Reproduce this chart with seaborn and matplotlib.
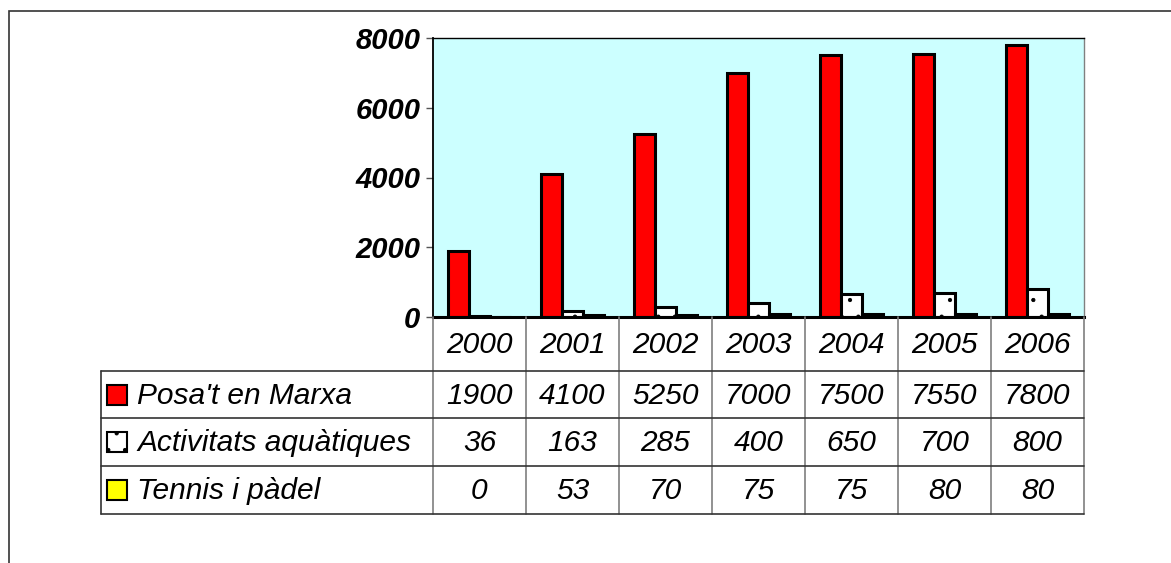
import matplotlib
matplotlib.use("Agg")
import matplotlib.pyplot as plt
import seaborn as sns
import pandas as pd
from matplotlib.lines import Line2D
from matplotlib.patches import Rectangle

# Participants per programme and year
years = ["2000", "2001", "2002", "2003", "2004", "2005", "2006"]
series = ["Posa't en Marxa", "Activitats aquàtiques", "Tennis i pàdel"]
posat_en_marxa = [1900, 4100, 5250, 7000, 7500, 7550, 7800]
activitats_aquatiques = [36, 163, 285, 400, 650, 700, 800]
tennis_padel = [0, 53, 70, 75, 75, 80, 80]
y_ticks = [0, 2000, 4000, 6000, 8000]

colors = ["#FF0000", "#FFFFFF", "#FFFF00"]
values = [posat_en_marxa, activitats_aquatiques, tennis_padel]

df = pd.DataFrame(
    [(y, s, v) for s, vals in zip(series, values) for y, v in zip(years, vals)],
    columns=["year", "series", "value"],
)

sns.set_theme(style="white")
plt.rcParams["font.family"] = ["Liberation Sans", "DejaVu Sans"]
plt.rcParams["hatch.linewidth"] = 0.6
plt.rcParams["hatch.color"] = "#555555"

W, H = 1171, 563
fig = plt.figure(figsize=(W / 100, H / 100), dpi=100)
fig.patch.set_facecolor("white")


def fx(px):
    return px / W


def fy(py):
    return 1 - py / H


ax_l, ax_r, ax_t, ax_b = 433, 1084, 38, 317
ax = fig.add_axes([fx(ax_l), fy(ax_b), fx(ax_r - ax_l), (ax_b - ax_t) / H])

sns.barplot(
    data=df, x="year", y="value", hue="series", order=years, hue_order=series,
    palette=colors, saturation=1, width=0.68, edgecolor="black", linewidth=2.2,
    ax=ax, legend=False, errorbar=None,
)
for bar in ax.containers[1]:
    bar.set_hatch(".")

ax.set_facecolor("#CCFFFF")
ax.set_ylim(0, 8000)
ax.set_xlim(-0.5, len(years) - 0.5)
ax.set_yticks(y_ticks)
ax.set_yticklabels([str(t) for t in y_ticks], fontsize=21, fontweight="bold",
                   fontstyle="italic", color="black")
ax.tick_params(axis="y", direction="out", length=5, width=1, color="#555555",
               pad=4, left=True)
ax.set_xticks([])
ax.set_xlabel("")
ax.set_ylabel("")
for side, lw, col in [("left", 1.3, "black"), ("top", 1.0, "black"),
                      ("right", 1.0, "#808080"), ("bottom", 2.2, "black")]:
    ax.spines[side].set_visible(True)
    ax.spines[side].set_linewidth(lw)
    ax.spines[side].set_color(col)

# Outer frame
fig.add_artist(Rectangle((fx(9), fy(H + 20)), fx(W + 20), (H + 20 - 11) / H,
                         transform=fig.transFigure, fill=False,
                         edgecolor="#333333", linewidth=1.2))

# Data table below the plot
fig.canvas.draw()


def col_px(i):
    disp = ax.transData.transform((i - 0.5, 0))
    return disp[0] * W / fig.bbox.width


col_edges = [col_px(i) for i in range(len(years) + 1)]
tab_left = 101
row_edges = [ax_b, 371, 418, 466, 514]

vline_col = "#7f7f7f"
hline_col = "#333333"
for x in col_edges:
    fig.add_artist(Line2D([fx(x), fx(x)], [fy(row_edges[0]), fy(row_edges[-1])],
                          color=vline_col, linewidth=1.2, transform=fig.transFigure))
fig.add_artist(Line2D([fx(tab_left), fx(tab_left)], [fy(row_edges[1]), fy(row_edges[-1])],
                      color=hline_col, linewidth=1.2, transform=fig.transFigure))
for y in row_edges[1:]:
    fig.add_artist(Line2D([fx(tab_left), fx(col_edges[-1])], [fy(y), fy(y)],
                          color=hline_col, linewidth=1.2, transform=fig.transFigure))

cell_font = dict(fontsize=21.5, fontstyle="italic", color="black",
                 ha="center", va="center")
for j, yr in enumerate(years):
    cx = (col_edges[j] + col_edges[j + 1]) / 2
    fig.text(fx(cx), fy((row_edges[0] + row_edges[1]) / 2 + 1), yr, **cell_font)

for r, (name, vals, c) in enumerate(zip(series, values, colors)):
    top, bot = row_edges[r + 1], row_edges[r + 2]
    cy = (top + bot) / 2
    fig.add_artist(Rectangle((fx(107), fy(cy + 10)), fx(20), 20 / H,
                             transform=fig.transFigure, facecolor=c,
                             edgecolor="black", linewidth=1.5,
                             hatch="." if r == 1 else None))
    fig.text(fx(137), fy(cy + 1), name, fontsize=21.5, fontstyle="italic",
             color="black", ha="left", va="center")
    for j, v in enumerate(vals):
        cx = (col_edges[j] + col_edges[j + 1]) / 2
        fig.text(fx(cx), fy(cy + 1), str(v), **cell_font)

fig.savefig("out.png", dpi=100, facecolor="white")
